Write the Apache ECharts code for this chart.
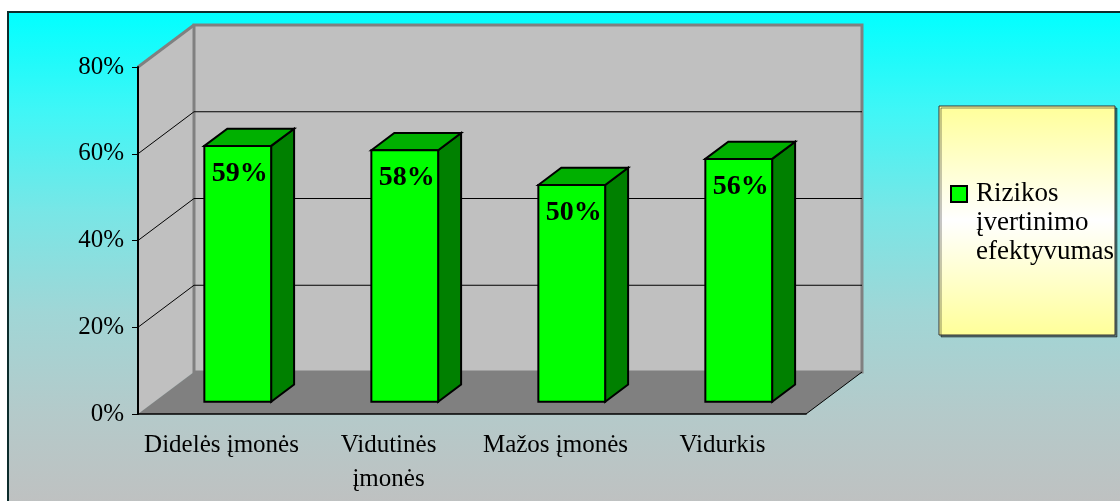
<!DOCTYPE html>
<html>
<head>
<meta charset="utf-8">
<script src="https://cdn.jsdelivr.net/npm/echarts@6/dist/echarts.min.js"></script>
<style>
  html, body { margin: 0; padding: 0; background: #ffffff; }
  #chart { width: 1120px; height: 501px; }
</style>
</head>
<body>
<div id="chart"></div>
<script>
// Chart data
const categories = ['Didelės įmonės', 'Vidutinės įmonės', 'Mažos įmonės', 'Vidurkis'];
const values = [0.59, 0.58, 0.50, 0.56];
const seriesName = 'Rizikos įvertinimo efektyvumas';
const yTicks = [0, 0.2, 0.4, 0.6, 0.8];

const SERIF = '"Liberation Serif", "Times New Roman", serif';
// 3D projection of the plot box: depth offset of the back wall
const DEPTH_X = 56, DEPTH_Y = -42;
// bar depth placement (fraction of full depth) and width (fraction of band)
const BAR_FRONT = 0.29, BAR_BACK = 0.70, BAR_WIDTH = 0.4;
const pct = v => Math.round(v * 100) + '%';

// wrap a category label onto a second line when it is wider than the band
const measureCtx = document.createElement('canvas').getContext('2d');
function wrapLabel(text, font, maxWidth) {
  measureCtx.font = font;
  if (measureCtx.measureText(text).width <= maxWidth) return text;
  const words = text.split(' ');
  const lines = [];
  let line = '';
  words.forEach(w => {
    const next = line ? line + ' ' + w : w;
    if (line && measureCtx.measureText(next).width > maxWidth) { lines.push(line); line = w; }
    else line = next;
  });
  if (line) lines.push(line);
  return lines.join('\n');
}

function renderWalls(params, api) {
  const cs = params.coordSys;
  const x0 = cs.x, y0 = cs.y, x1 = cs.x + cs.width, y1 = cs.y + cs.height;
  const dx = DEPTH_X, dy = DEPTH_Y;
  const children = [];
  // left side wall
  children.push({ type: 'polygon', shape: { points: [[x0, y0], [x0 + dx, y0 + dy], [x0 + dx, y1 + dy], [x0, y1]] },
    style: { fill: '#c0c0c0' } });
  // back wall
  children.push({ type: 'rect', shape: { x: x0 + dx, y: y0 + dy, width: cs.width, height: cs.height },
    style: { fill: '#c0c0c0', stroke: '#808080', lineWidth: 3 } });
  // floor
  children.push({ type: 'polygon', shape: { points: [[x0, y1], [x1, y1], [x1 + dx, y1 + dy], [x0 + dx, y1 + dy]] },
    style: { fill: '#808080' } });
  // gridlines on side and back walls
  const maxV = yTicks[yTicks.length - 1];
  yTicks.forEach(v => {
    if (v <= 0 || v >= maxV) return;
    const y = api.coord([0, v])[1];
    children.push({ type: 'polyline', shape: { points: [[x0, y], [x0 + dx, y + dy], [x1 + dx, y + dy]] },
      style: { stroke: '#000', lineWidth: 1, fill: null } });
  });
  // top edge of side wall
  children.push({ type: 'line', shape: { x1: x0, y1: y0, x2: x0 + dx, y2: y0 + dy },
    style: { stroke: '#808080', lineWidth: 3 } });
  // right edge of floor
  children.push({ type: 'line', shape: { x1: x1, y1: y1, x2: x1 + dx, y2: y1 + dy },
    style: { stroke: '#000', lineWidth: 1 } });
  return { type: 'group', children };
}

function renderBar(params, api) {
  const idx = api.value(0), v = api.value(1);
  const base = api.coord([idx, 0]);
  const top = api.coord([idx, v]);
  const band = api.size([1, 0])[0];
  const w = band * BAR_WIDTH;
  const fx = DEPTH_X * BAR_FRONT, fy = DEPTH_Y * BAR_FRONT;
  const sx = DEPTH_X * (BAR_BACK - BAR_FRONT), sy = DEPTH_Y * (BAR_BACK - BAR_FRONT);
  const xl = base[0] - w / 2 + fx, xr = xl + w;
  const yb = base[1] + fy, yt = top[1] + fy;
  const edge = { stroke: '#000', lineWidth: 2, lineJoin: 'miter' };
  return {
    type: 'group',
    children: [
      { type: 'polygon', shape: { points: [[xr, yt], [xr + sx, yt + sy], [xr + sx, yb + sy], [xr, yb]] },
        style: Object.assign({ fill: '#008000' }, edge) },
      { type: 'polygon', shape: { points: [[xl, yt], [xl + sx, yt + sy], [xr + sx, yt + sy], [xr, yt]] },
        style: Object.assign({ fill: '#00b000' }, edge) },
      { type: 'rect', shape: { x: xl, y: yt, width: w, height: yb - yt },
        style: Object.assign({ fill: '#00ff00' }, edge) },
      { type: 'text', style: { text: pct(v), x: (xl + xr) / 2 + 2, y: yt + 28, align: 'center', verticalAlign: 'middle',
        fill: '#000', font: 'bold 28px ' + SERIF } }
    ]
  };
}

const chart = echarts.init(document.getElementById('chart'), null, { renderer: 'canvas' });

chart.setOption({
  animation: false,
  graphic: [
    { type: 'rect', z: -10, shape: { x: 8, y: 12, width: 1130, height: 500 },
      style: {
        fill: new echarts.graphic.LinearGradient(0, 0, 0, 1, [
          { offset: 0, color: '#00ffff' },
          { offset: 0.2, color: '#40f6f6' },
          { offset: 0.4, color: '#78e6e6' },
          { offset: 0.6, color: '#a0d6d6' },
          { offset: 0.8, color: '#b4caca' },
          { offset: 1, color: '#c0c0c0' }
        ]),
        stroke: '#0c2c2c', lineWidth: 2
      } },
    { type: 'rect', z: 1, shape: { x: 939, y: 106, width: 176, height: 229 },
      style: {
        fill: new echarts.graphic.LinearGradient(0, 0, 0, 1, [
          { offset: 0, color: '#ffff99' },
          { offset: 0.5, color: '#ffffff' },
          { offset: 1, color: '#ffff99' }
        ]),
        stroke: '#333333', lineWidth: 1,
        shadowColor: 'rgba(0,0,0,0.45)', shadowOffsetX: 2, shadowOffsetY: 2
      } }
  ],
  legend: {
    // square marker on the first text line; the trailing move-to extends the
    // icon box so the three-line text block starts level with the marker
    data: [{ name: seriesName, icon: 'path://M0,0h16v16h-16z M0,74',
      itemStyle: { color: '#00ff00', borderColor: '#000', borderWidth: 2 } }],
    left: 950, top: 179.5, padding: 0,
    itemWidth: 16, itemHeight: 74,
    selectedMode: false, z: 10,
    formatter: n => n.split(' ').join('\n'),
    textStyle: { fontFamily: SERIF, fontSize: 27, lineHeight: 29, color: '#000', padding: [0, 0, 0, 4] }
  },
  grid: { left: 138, top: 67, width: 668, height: 347, containLabel: false },
  xAxis: {
    type: 'category', data: categories, z: 5,
    axisLine: { lineStyle: { color: '#000', width: 1.5 } },
    axisTick: { length: 6, lineStyle: { color: '#000' } },
    axisLabel: { fontFamily: SERIF, fontSize: 25, lineHeight: 34, color: '#000', margin: 14, interval: 0,
      formatter: t => wrapLabel(t, '25px ' + SERIF, 165) }
  },
  yAxis: {
    type: 'value', min: yTicks[0], max: yTicks[yTicks.length - 1], interval: 0.2, z: 5,
    axisLine: { show: true, lineStyle: { color: '#000', width: 2 } },
    axisTick: { show: true, length: 6, lineStyle: { color: '#000' } },
    splitLine: { show: false },
    axisLabel: { fontFamily: SERIF, fontSize: 25, color: '#000', margin: 14, formatter: pct }
  },
  series: [
    { type: 'custom', name: 'walls', z: 1, silent: true, renderItem: renderWalls, data: [[0, 0]] },
    { type: 'custom', name: seriesName, z: 2, renderItem: renderBar,
      itemStyle: { color: '#00ff00' },
      data: values.map((v, i) => [i, v]) }
  ]
});
</script>
</body>
</html>
